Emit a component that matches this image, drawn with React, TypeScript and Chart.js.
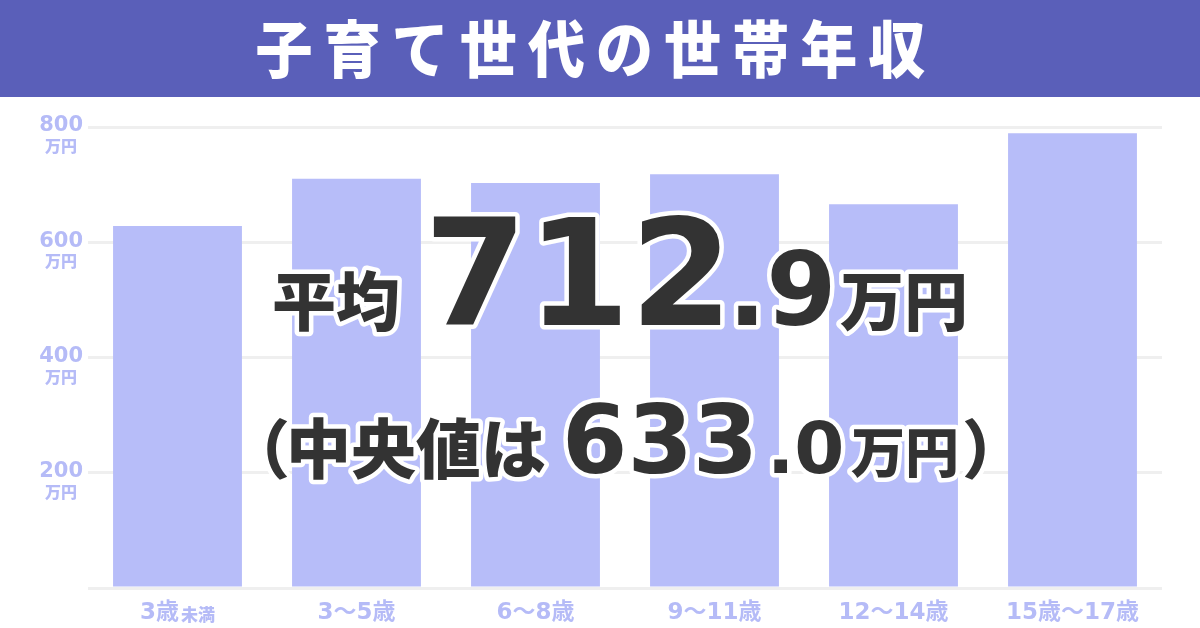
import React, { useEffect, useRef } from "react";
import Chart from "chart.js/auto";

const categories = ["3歳未満", "3～5歳", "6～8歳", "9～11歳", "12～14歳", "15歳～17歳"];
const householdIncome = [628, 710, 703, 718, 666, 789];
const yTickValues = [200, 400, 600, 800];
const yUnit = "万円";
const smallSuffix = "未満";
const averageIncome = "712.9";
const medianIncome = "633.0";
const title = "子育て世代の世帯年収";

const BAND = "#5a5fb9";
const BAR = "#b7bdf9";
const LABEL = "#b5bbf7";
const INK = "#333333";
const LATIN = '"DejaVu Sans", "Noto Sans CJK JP", sans-serif';
const CJK = '"Noto Sans CJK JP", sans-serif';
const HEADER_H = 97;

type Run = { text: string; font: string; x: number };

const splitDecimal = (v: string) => {
  const i = v.indexOf(".");
  return i < 0 ? [v, ""] : [v.slice(0, i), v.slice(i)];
};

const [avgInt, avgDec] = splitDecimal(averageIncome);
const [medInt, medDec] = splitDecimal(medianIncome);

// big annotation lines, x = text origin, baseline in canvas coords
const line1: Run[] = [
  { text: "平均", font: `900 64px ${CJK}`, x: 272 },
  { text: avgInt, font: `bold 148px ${LATIN}`, x: 424 },
  { text: avgDec, font: `bold 101px ${LATIN}`, x: 728 },
  { text: yUnit, font: `900 64px ${CJK}`, x: 840 },
];
const line2: Run[] = [
  { text: "（", font: `900 64px ${CJK}`, x: 226 },
  { text: "中央値は", font: `900 65px ${CJK}`, x: 286 },
  { text: medInt, font: `bold 94px ${LATIN}`, x: 562 },
  { text: medDec, font: `bold 72px ${LATIN}`, x: 767 },
  { text: yUnit, font: `900 54px ${CJK}`, x: 851 },
  { text: "）", font: `900 64px ${CJK}`, x: 962 },
];

const axisLabels = {
  id: "axisLabels",
  afterDraw(chart: any) {
    const { ctx, scales } = chart;
    const y = scales.y;
    const x = scales.x;
    ctx.save();
    ctx.fillStyle = LABEL;
    ctx.textBaseline = "middle";

    yTickValues.forEach((v) => {
      const py = y.getPixelForValue(v);
      ctx.font = `bold 21px ${LATIN}`;
      ctx.textAlign = "right";
      const txt = String(v);
      const w = ctx.measureText(txt).width;
      ctx.fillText(txt, 83, py - 1);
      ctx.font = `900 16px ${CJK}`;
      ctx.textAlign = "center";
      ctx.fillText(yUnit, 83 - w / 2, py + 19);
    });

    const ly = 516;
    categories.forEach((label, i) => {
      const px = x.getPixelForValue(i);
      let main = label;
      let tail = "";
      if (label.endsWith(smallSuffix)) {
        main = label.slice(0, -smallSuffix.length);
        tail = smallSuffix;
      }
      ctx.font = `bold 23px ${LATIN}`;
      const w1 = ctx.measureText(main).width;
      ctx.font = `900 17px ${CJK}`;
      const w2 = tail ? ctx.measureText(tail).width + 2 : 0;
      const start = px - (w1 + w2) / 2;
      ctx.textAlign = "left";
      ctx.font = `bold 23px ${LATIN}`;
      ctx.fillText(main, start, ly);
      if (tail) {
        ctx.font = `900 17px ${CJK}`;
        ctx.fillText(tail, start + w1 + 2, ly + 2);
      }
    });
    ctx.restore();
  },
};

const headline = {
  id: "headline",
  afterDraw(chart: any) {
    const ctx = chart.ctx;
    const lines: [Run[], number][] = [
      [line1, 325 - HEADER_H],
      [line2, 473 - HEADER_H],
    ];
    ctx.save();
    ctx.textAlign = "left";
    ctx.textBaseline = "alphabetic";
    ctx.lineJoin = "round";
    ctx.lineWidth = 9;
    ctx.strokeStyle = "#ffffff";
    lines.forEach(([runs, base]) =>
      runs.forEach((r) => {
        ctx.font = r.font;
        ctx.strokeText(r.text, r.x, base);
      })
    );
    ctx.fillStyle = INK;
    lines.forEach(([runs, base]) =>
      runs.forEach((r) => {
        ctx.font = r.font;
        ctx.fillText(r.text, r.x, base);
      })
    );
    ctx.restore();
  },
};

function IncomeChart() {
  const canvasRef = useRef<HTMLCanvasElement | null>(null);

  useEffect(() => {
    if (!canvasRef.current) return;
    const chart = new Chart(canvasRef.current, {
      type: "bar",
      data: {
        labels: categories,
        datasets: [
          {
            data: householdIncome,
            backgroundColor: BAR,
            borderWidth: 0,
            barPercentage: 0.72,
            categoryPercentage: 1,
          },
        ],
      },
      options: {
        animation: false,
        responsive: true,
        maintainAspectRatio: false,
        layout: { padding: { top: 30, bottom: 40, left: 88, right: 38 } },
        plugins: {
          legend: { display: false },
          tooltip: { enabled: false },
        },
        scales: {
          x: {
            grid: { display: false, drawTicks: false },
            border: { display: false },
            ticks: { display: false },
          },
          y: {
            min: 0,
            max: 800,
            grid: { color: "#efefef", lineWidth: 3, drawTicks: false },
            border: { display: false },
            ticks: { display: false, stepSize: 200 },
          },
        },
      },
      plugins: [axisLabels, headline],
    });
    return () => chart.destroy();
  }, []);

  return (
    <div style={{ position: "absolute", left: 0, top: HEADER_H, width: 1200, height: 628 - HEADER_H }}>
      <canvas ref={canvasRef} />
    </div>
  );
}

export default function App() {
  return (
    <div
      style={{
        position: "absolute",
        left: 0,
        top: 0,
        width: 1200,
        height: 628,
        background: "#ffffff",
        overflow: "hidden",
      }}
    >
      <div
        style={{
          position: "absolute",
          left: 0,
          top: 0,
          width: 1200,
          height: HEADER_H,
          background: BAND,
          color: "#ffffff",
          display: "flex",
          alignItems: "center",
          justifyContent: "center",
          fontFamily: CJK,
          fontWeight: 900,
          fontSize: 62,
          lineHeight: 1,
        }}
      >
        <span
          style={{
            display: "inline-block",
            letterSpacing: 12,
            marginLeft: -8,
            marginTop: -6,
            transform: "scaleX(0.92)",
          }}
        >
          {title}
        </span>
      </div>
      <IncomeChart />
    </div>
  );
}
